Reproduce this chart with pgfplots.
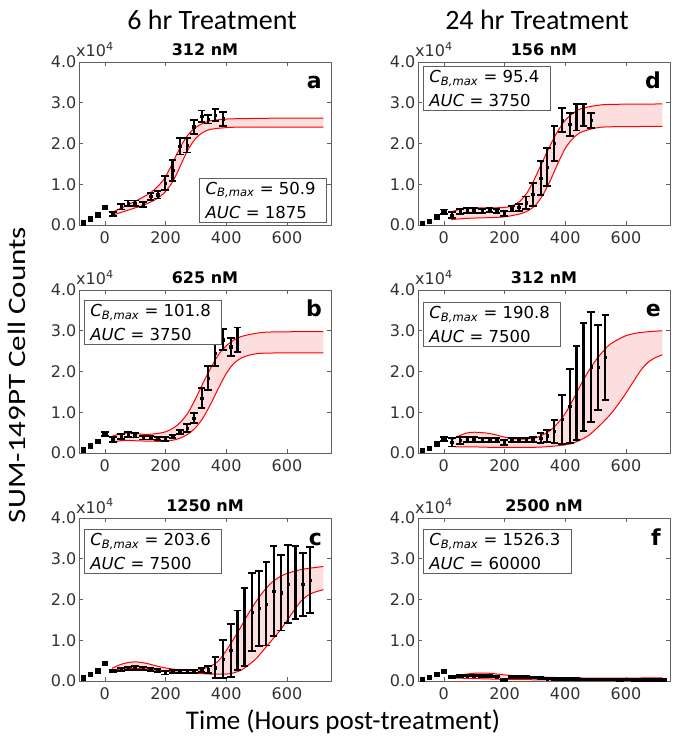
\documentclass[border=0pt]{standalone}
\usepackage{fontspec}
\setmainfont{DejaVu Sans}
\newfontfamily\bigfont{Carlito}
\usepackage{pgfplots}
\pgfplotsset{compat=1.18}
\definecolor{bandfill}{RGB}{253,222,222}
\definecolor{axgray}{RGB}{95,95,95}
\definecolor{txtgray}{RGB}{50,50,50}
\newcommand{\cbox}[2]{\textit{C}\textsubscript{\textit{B,max}} = #1\hspace*{5pt}\\\textit{AUC} = #2}
\pgfplotsset{
  panel/.style={
    scale only axis, width=252pt, height=163pt,
    xmin=-85, xmax=745, ymin=0, ymax=4,
    xtick={0,200,400,600}, ytick={0,1,2,3,4},
    /pgf/number format/assume math mode=true,
    yticklabel style={/pgf/number format/fixed, /pgf/number format/fixed zerofill, /pgf/number format/precision=1, inner xsep=2.5pt},
    tick label style={font=\fontsize{16}{16}\selectfont, text=txtgray},
    xticklabel style={yshift=-3pt},
    tick align=inside, major tick length=4pt,
    axis line style={axgray, line width=0.8pt},
    every tick/.style={axgray, line width=0.6pt},
    title style={font=\bfseries\fontsize{16}{16}\selectfont, yshift=-3pt},
    clip=false,
  },
  band/.style={red, line width=1pt, smooth, tension=0.5},
  bandarea/.style={fill=bandfill, draw=none},
  pre/.style={black, only marks, mark=square*, mark size=2.2pt},
  databar/.style={black, only marks, mark=square*, mark size=1.2pt,
    error bars/.cd, y dir=both, y explicit,
    error bar style={line width=2.1pt, black},
    error mark options={rotate=90, mark size=3.8pt, line width=1.9pt, black}},
}
\tikzset{
  xten/.style={anchor=base west, inner sep=0pt, font=\fontsize{16}{16}\selectfont, text=txtgray, xshift=-3pt, yshift=5pt},
  letter/.style={anchor=base east, inner sep=0pt, font=\bfseries\fontsize{22}{22}\selectfont, xshift=-9pt, yshift=-27pt},
  infobox/.style={draw=axgray, line width=0.8pt, fill=white, align=left, inner xsep=6pt, inner ysep=4pt, font=\fontsize{16.5}{24}\selectfont},
}
\begin{document}
\begin{tikzpicture}
\path[use as bounding box] (0,0) rectangle (675pt,741pt);

% ---------------- a ----------------
\begin{axis}[panel, at={(79pt,516pt)}, anchor=south west, title={312 nM}]
\addplot[bandarea] coordinates {(24,0.31) (50,0.40) (75,0.49) (100,0.58) (125,0.68) (150,0.79) (175,0.95) (200,1.18) (225,1.55) (250,1.93) (275,2.22) (300,2.40) (325,2.50) (350,2.56) (400,2.60) (450,2.61) (550,2.62) (720,2.62)
 (720,2.40) (450,2.40) (400,2.39) (350,2.35) (325,2.28) (300,2.13) (275,1.86) (250,1.47) (225,1.08) (200,0.82) (175,0.66) (150,0.56) (125,0.48) (100,0.42) (75,0.36) (50,0.30) (24,0.24)} -- cycle;
\addplot[band] coordinates {(24,0.31) (50,0.40) (75,0.49) (100,0.58) (125,0.68) (150,0.79) (175,0.95) (200,1.18) (225,1.55) (250,1.93) (275,2.22) (300,2.40) (325,2.50) (350,2.56) (400,2.60) (450,2.61) (550,2.62) (720,2.62)};
\addplot[band] coordinates {(24,0.24) (50,0.30) (75,0.36) (100,0.42) (125,0.48) (150,0.56) (175,0.66) (200,0.82) (225,1.08) (250,1.47) (275,1.86) (300,2.13) (325,2.28) (350,2.35) (400,2.39) (450,2.40) (720,2.40)};
\addplot[pre] coordinates {(-72,0.06) (-48,0.15) (-24,0.25) (0,0.43)};
\addplot[databar] table[x index=0, y index=1, y error index=2] {
26 0.27 0.05
54 0.45 0.07
77 0.53 0.07
99 0.53 0.07
126 0.50 0.06
151 0.70 0.08
174 0.74 0.09
199 1.03 0.18
223 1.34 0.25
247 1.93 0.20
271 1.96 0.18
293 2.41 0.17
319 2.67 0.14
340 2.59 0.10
364 2.70 0.14
390 2.61 0.17
};
\node[xten] at (rel axis cs:0,1) {x10\textsuperscript{4}};
\node[letter] at (rel axis cs:1,1) {a};
\node[infobox, anchor=south east, xshift=-4pt, yshift=2pt] at (rel axis cs:1,0) {\cbox{50.9}{1875}};
\end{axis}

% ---------------- d ----------------
\begin{axis}[panel, at={(418pt,516pt)}, anchor=south west, title={156 nM}]
\addplot[bandarea] coordinates {(24,0.32) (50,0.38) (75,0.41) (100,0.42) (150,0.42) (200,0.43) (225,0.47) (250,0.58) (275,0.80) (300,1.15) (325,1.55) (350,1.95) (375,2.30) (400,2.57) (425,2.74) (450,2.85) (500,2.93) (550,2.96) (720,2.97)
 (720,2.42) (550,2.41) (500,2.38) (450,2.27) (425,2.12) (400,1.88) (375,1.50) (350,1.08) (325,0.72) (300,0.47) (275,0.34) (250,0.27) (200,0.20) (150,0.18) (100,0.17) (50,0.15) (24,0.13)} -- cycle;
\addplot[band] coordinates {(24,0.32) (50,0.38) (75,0.41) (100,0.42) (150,0.42) (200,0.43) (225,0.47) (250,0.58) (275,0.80) (300,1.15) (325,1.55) (350,1.95) (375,2.30) (400,2.57) (425,2.74) (450,2.85) (500,2.93) (550,2.96) (720,2.97)};
\addplot[band] coordinates {(24,0.13) (50,0.15) (100,0.17) (150,0.18) (200,0.20) (250,0.27) (275,0.34) (300,0.47) (325,0.72) (350,1.08) (375,1.50) (400,1.88) (425,2.12) (450,2.27) (500,2.38) (550,2.41) (720,2.42)};
\addplot[pre] coordinates {(-72,0.04) (-48,0.10) (-24,0.20) (0,0.32)};
\addplot[databar] table[x index=0, y index=1, y error index=2] {
0 0.32 0.06
26 0.24 0.07
54 0.33 0.07
77 0.35 0.06
99 0.36 0.06
126 0.34 0.05
151 0.36 0.05
174 0.34 0.05
199 0.28 0.06
223 0.40 0.07
247 0.43 0.08
271 0.55 0.15
293 0.75 0.28
319 1.15 0.42
340 1.42 0.47
364 2.00 0.44
390 2.57 0.29
415 2.47 0.28
437 2.64 0.32
460 2.70 0.28
485 2.57 0.18
};
\node[xten] at (rel axis cs:0,1) {x10\textsuperscript{4}};
\node[letter] at (rel axis cs:1,1) {d};
\node[infobox, anchor=north west, xshift=5pt, yshift=-4pt] at (rel axis cs:0,1) {\cbox{95.4}{3750}};
\end{axis}

% ---------------- b ----------------
\begin{axis}[panel, at={(79pt,288pt)}, anchor=south west, title={625 nM}]
\addplot[bandarea] coordinates {(24,0.41) (50,0.47) (75,0.49) (100,0.48) (125,0.46) (150,0.46) (175,0.48) (200,0.52) (225,0.61) (250,0.76) (275,1.00) (300,1.35) (325,1.74) (350,2.10) (375,2.42) (400,2.63) (425,2.77) (450,2.86) (500,2.94) (550,2.97) (720,2.98)
 (720,2.46) (525,2.45) (475,2.40) (450,2.33) (425,2.20) (400,1.95) (375,1.60) (350,1.22) (325,0.88) (300,0.63) (275,0.47) (250,0.37) (234,0.33) (200,0.29) (150,0.29) (100,0.30) (75,0.31) (50,0.30) (24,0.26)} -- cycle;
\addplot[band] coordinates {(24,0.41) (50,0.47) (75,0.49) (100,0.48) (125,0.46) (150,0.46) (175,0.48) (200,0.52) (225,0.61) (250,0.76) (275,1.00) (300,1.35) (325,1.74) (350,2.10) (375,2.42) (400,2.63) (425,2.77) (450,2.86) (500,2.94) (550,2.97) (720,2.98)};
\addplot[band] coordinates {(24,0.26) (50,0.30) (75,0.31) (100,0.30) (150,0.29) (200,0.29) (234,0.33) (250,0.37) (275,0.47) (300,0.63) (325,0.88) (350,1.22) (375,1.60) (400,1.95) (425,2.20) (450,2.33) (475,2.40) (525,2.45) (720,2.46)};
\addplot[pre] coordinates {(-72,0.08) (-48,0.18) (-24,0.29) (0,0.47)};
\addplot[databar] table[x index=0, y index=1, y error index=2] {
0 0.47 0.05
26 0.33 0.07
54 0.41 0.06
77 0.45 0.06
99 0.43 0.05
126 0.37 0.04
151 0.37 0.04
174 0.35 0.04
199 0.34 0.05
223 0.41 0.04
247 0.51 0.05
271 0.61 0.10
293 0.86 0.13
319 1.35 0.25
340 1.84 0.30
364 2.45 0.32
390 2.78 0.26
415 2.61 0.22
437 2.78 0.30
};
\node[xten] at (rel axis cs:0,1) {x10\textsuperscript{4}};
\node[letter] at (rel axis cs:1,1) {b};
\node[infobox, anchor=north west, xshift=5pt, yshift=-10pt] at (rel axis cs:0,1) {\cbox{101.8}{3750}};
\end{axis}

% ---------------- e ----------------
\begin{axis}[panel, at={(418pt,288pt)}, anchor=south west, title={312 nM}]
\addplot[bandarea] coordinates {(24,0.31) (50,0.42) (75,0.49) (100,0.51) (125,0.50) (150,0.48) (175,0.44) (200,0.39) (250,0.34) (300,0.37) (325,0.44) (350,0.55) (375,0.73) (400,0.97) (425,1.30) (450,1.66) (475,1.99) (500,2.27) (525,2.50) (550,2.68) (600,2.88) (650,2.96) (720,3.00)
 (720,2.41) (700,2.35) (675,2.24) (650,2.04) (625,1.76) (600,1.47) (575,1.20) (550,0.96) (525,0.76) (500,0.58) (475,0.42) (450,0.32) (425,0.24) (400,0.20) (350,0.16) (300,0.14) (250,0.14) (200,0.14) (150,0.14) (100,0.15) (50,0.15) (24,0.16)} -- cycle;
\addplot[band] coordinates {(24,0.31) (50,0.42) (75,0.49) (100,0.51) (125,0.50) (150,0.48) (175,0.44) (200,0.39) (250,0.34) (300,0.37) (325,0.44) (350,0.55) (375,0.73) (400,0.97) (425,1.30) (450,1.66) (475,1.99) (500,2.27) (525,2.50) (550,2.68) (600,2.88) (650,2.96) (720,3.00)};
\addplot[band] coordinates {(24,0.16) (50,0.15) (100,0.15) (150,0.14) (200,0.14) (250,0.14) (300,0.14) (350,0.16) (400,0.20) (425,0.24) (450,0.32) (475,0.42) (500,0.58) (525,0.76) (550,0.96) (575,1.20) (600,1.47) (625,1.76) (650,2.04) (675,2.24) (700,2.35) (720,2.41)};
\addplot[pre] coordinates {(-72,0.07) (-48,0.12) (-24,0.23) (0,0.35)};
\addplot[databar] table[x index=0, y index=1, y error index=2] {
0 0.35 0.05
26 0.26 0.10
54 0.31 0.08
77 0.33 0.07
99 0.33 0.06
126 0.31 0.05
151 0.31 0.05
174 0.31 0.05
199 0.26 0.06
223 0.31 0.05
247 0.31 0.05
271 0.31 0.05
293 0.33 0.07
319 0.36 0.12
340 0.42 0.15
364 0.53 0.29
390 0.83 0.60
415 1.15 0.91
437 1.47 1.15
460 1.87 1.33
485 2.12 1.35
508 2.10 1.04
532 2.35 1.04
};
\node[xten] at (rel axis cs:0,1) {x10\textsuperscript{4}};
\node[letter] at (rel axis cs:1,1) {e};
\node[infobox, anchor=north west, xshift=5pt, yshift=-12pt] at (rel axis cs:0,1) {\cbox{190.8}{7500}};
\end{axis}

% ---------------- c ----------------
\begin{axis}[panel, at={(79pt,60pt)}, anchor=south west, title={1250 nM}]
\addplot[bandarea] coordinates {(24,0.31) (50,0.40) (75,0.45) (100,0.47) (125,0.45) (150,0.41) (175,0.36) (200,0.32) (250,0.27) (300,0.26) (350,0.37) (375,0.50) (400,0.75) (425,1.04) (450,1.35) (475,1.68) (500,1.97) (525,2.22) (550,2.42) (575,2.55) (600,2.64) (650,2.74) (720,2.81)
 (720,2.24) (700,2.20) (675,2.13) (650,1.99) (625,1.75) (600,1.48) (575,1.22) (550,1.00) (525,0.78) (500,0.56) (475,0.40) (450,0.27) (425,0.20) (400,0.17) (350,0.17) (300,0.19) (250,0.21) (200,0.24) (150,0.28) (100,0.31) (50,0.29) (24,0.26)} -- cycle;
\addplot[band] coordinates {(24,0.31) (50,0.40) (75,0.45) (100,0.47) (125,0.45) (150,0.41) (175,0.36) (200,0.32) (250,0.27) (300,0.26) (350,0.37) (375,0.50) (400,0.75) (425,1.04) (450,1.35) (475,1.68) (500,1.97) (525,2.22) (550,2.42) (575,2.55) (600,2.64) (650,2.74) (720,2.81)};
\addplot[band] coordinates {(24,0.26) (50,0.29) (100,0.31) (150,0.28) (200,0.24) (250,0.21) (300,0.19) (350,0.17) (400,0.17) (425,0.20) (450,0.27) (475,0.40) (500,0.56) (525,0.78) (550,1.00) (575,1.22) (600,1.48) (625,1.75) (650,1.99) (675,2.13) (700,2.20) (720,2.24)};
\addplot[pre] coordinates {(-72,0.08) (-48,0.16) (-24,0.25) (0,0.43)};
\addplot[databar] table[x index=0, y index=1, y error index=2] {
26 0.25 0.03
54 0.29 0.04
77 0.31 0.04
99 0.32 0.04
126 0.31 0.04
151 0.29 0.04
174 0.26 0.04
199 0.20 0.04
223 0.24 0.04
247 0.24 0.04
271 0.23 0.04
293 0.24 0.04
319 0.27 0.05
340 0.28 0.09
364 0.33 0.25
390 0.54 0.46
415 0.75 0.65
437 1.00 0.73
460 1.33 0.96
485 1.69 0.96
508 1.78 0.93
532 1.89 1.02
556 2.21 1.11
580 2.17 0.93
604 2.38 0.95
628 2.42 0.89
652 2.37 0.78
676 2.48 0.81
};
\node[xten] at (rel axis cs:0,1) {x10\textsuperscript{4}};
\node[letter] at (rel axis cs:1,1) {c};
\node[infobox, anchor=north west, xshift=5pt, yshift=-11pt] at (rel axis cs:0,1) {\cbox{203.6}{7500}};
\end{axis}

% ---------------- f ----------------
\begin{axis}[panel, at={(418pt,60pt)}, anchor=south west, title={2500 nM}]
\addplot[bandarea] coordinates {(24,0.10) (50,0.14) (100,0.19) (150,0.19) (200,0.15) (250,0.12) (300,0.10) (400,0.08) (500,0.07) (600,0.07) (720,0.08)
 (720,0.03) (500,0.03) (400,0.03) (300,0.03) (200,0.04) (150,0.05) (100,0.06) (50,0.07) (24,0.08)} -- cycle;
\addplot[band] coordinates {(24,0.10) (50,0.14) (100,0.19) (150,0.19) (200,0.15) (250,0.12) (300,0.10) (400,0.08) (500,0.07) (600,0.07) (720,0.08)};
\addplot[band] coordinates {(24,0.08) (50,0.07) (100,0.06) (150,0.05) (200,0.04) (300,0.03) (400,0.03) (500,0.03) (720,0.03)};
\addplot[pre] coordinates {(-72,0.05) (-48,0.09) (-24,0.17) (0,0.24)};
\addplot[databar] table[x index=0, y index=1, y error index=2] {
26 0.10 0.02
54 0.12 0.02
77 0.13 0.02
99 0.13 0.02
126 0.12 0.02
151 0.12 0.02
174 0.11 0.02
199 0.03 0.02
223 0.10 0.02
247 0.10 0.02
271 0.10 0.02
293 0.09 0.02
319 0.07 0.02
340 0.06 0.02
364 0.05 0.02
390 0.05 0.02
415 0.05 0.02
437 0.05 0.02
460 0.04 0.02
485 0.04 0.02
508 0.04 0.02
532 0.04 0.02
556 0.04 0.02
580 0.03 0.02
604 0.04 0.02
628 0.03 0.02
652 0.03 0.02
676 0.03 0.02
700 0.03 0.02
722 0.03 0.02
};
\node[xten] at (rel axis cs:0,1) {x10\textsuperscript{4}};
\node[letter] at (rel axis cs:1,1) {f};
\node[infobox, anchor=north west, xshift=5pt, yshift=-11pt] at (rel axis cs:0,1) {\cbox{1526.3}{60000}};
\end{axis}

% ---------------- outer labels ----------------
\node[font=\bigfont\fontsize{28}{28}\selectfont] at (212pt,721pt) {6 hr Treatment};
\node[font=\bigfont\fontsize{28}{28}\selectfont] at (537pt,721pt) {24 hr Treatment};
\node[font=\bigfont\fontsize{25}{25}\selectfont, rotate=90, xscale=1.24, transform shape] at (17pt,366pt) {SUM-149PT Cell Counts};
\node[font=\bigfont\fontsize{27}{27}\selectfont] at (343pt,19pt) {Time (Hours post-treatment)};
\end{tikzpicture}
\end{document}
